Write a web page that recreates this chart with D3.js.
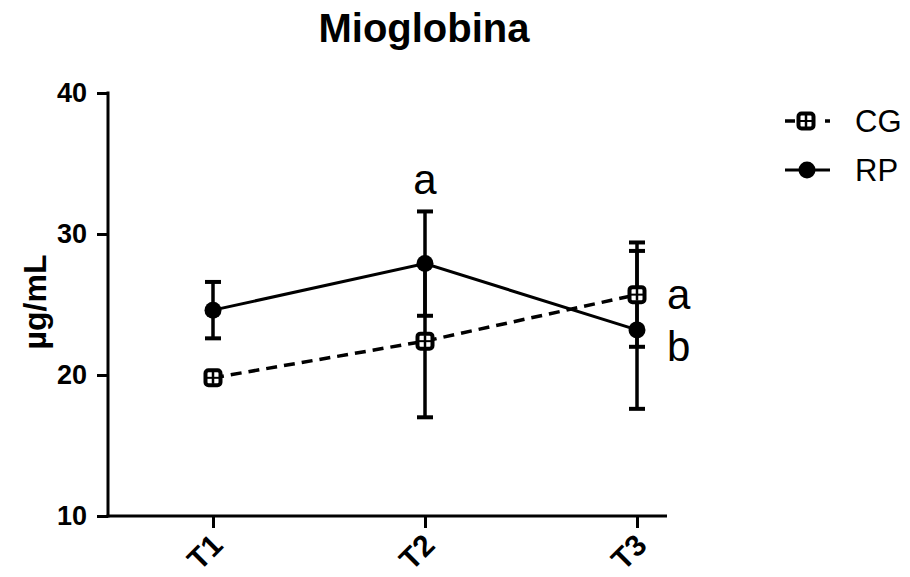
<!DOCTYPE html>
<html><head><meta charset="utf-8">
<script src="https://cdn.jsdelivr.net/npm/d3@7"></script>
<style>body{margin:0;background:#fff}svg{display:block;font-family:Arial,"Liberation Sans",sans-serif}</style>
</head><body><svg id="c" width="910" height="577"></svg>
<script>
const categories = ["T1","T2","T3"];
const cgMean = [19.8, 22.4, 25.7];
const cgErr  = [0.4, 5.4, 3.7];
const rpMean = [24.6, 27.9, 23.2];
const rpErr  = [2.0, 3.7, 5.6];
const yTicks = [10, 20, 30, 40];
const letterCats = ["T2", "T3", "T3"];
const letterSeries = ["RP-top", "CG", "RP"];
const letterTexts = ["a", "a", "b"];

const FONT = "Arial,'Liberation Sans',sans-serif";
const svg = d3.select("#c");
const x = d3.scalePoint().domain(categories).range([213, 637]);
const y = d3.scaleLinear().domain([10, 40]).range([516, 93]);

// title
svg.append("text").attr("x", 424).attr("y", 42).attr("text-anchor","middle")
  .style("font-size","40px").style("font-weight","bold").text("Mioglobina");

// y axis
const ya = svg.append("g").attr("transform","translate(108,0)")
  .call(d3.axisLeft(y).tickValues(yTicks).tickSize(11).tickPadding(10));
ya.select(".domain").attr("stroke","#000").attr("stroke-width",3).attr("d","M0,91.5V517.5");
ya.selectAll(".tick line").attr("stroke-width",3);
ya.selectAll(".tick text").style("font-size","27px").style("font-weight","bold").attr("fill","#000")
  .style("font-family",FONT).attr("dy","0.3em");

// x axis
const xa = svg.append("g").attr("transform","translate(0,516)")
  .call(d3.axisBottom(x).tickSize(12).tickPadding(6));
xa.select(".domain").attr("stroke","#000").attr("stroke-width",3).attr("d","M106.5,0H667");
xa.selectAll(".tick line").attr("stroke-width",3);
xa.selectAll(".tick text").style("font-size","30px").style("font-weight","bold").attr("fill","#000")
  .style("font-family",FONT)
  .attr("text-anchor","end").attr("dy","0").attr("y",0)
  .attr("transform","translate(11,31) rotate(-45)");

// y label
svg.append("text").attr("transform","translate(46,302) rotate(-90)")
  .attr("text-anchor","middle").style("font-size","32px").style("font-weight","bold").text("µg/mL");

const line = d3.line().x((d,i)=>x(categories[i])).y(d=>y(d));

function errBars(mean, err){
  const g = svg.append("g");
  mean.forEach((m,i)=>{
    const cx = x(categories[i]);
    const top = y(m+err[i]), bot = y(m-err[i]);
    g.append("line").attr("x1",cx).attr("x2",cx).attr("y1",top).attr("y2",bot)
      .attr("stroke","#000").attr("stroke-width",3.5);
    [top,bot].forEach(yy=>g.append("line").attr("x1",cx-8).attr("x2",cx+8)
      .attr("y1",yy).attr("y2",yy).attr("stroke","#000").attr("stroke-width",4));
  });
}
errBars(cgMean, cgErr);
errBars(rpMean, rpErr);

// CG dashed line
svg.append("path").attr("d", line(cgMean)).attr("fill","none").attr("stroke","#000")
  .attr("stroke-width",3.5).attr("stroke-dasharray","11,7");
// RP solid line
svg.append("path").attr("d", line(rpMean)).attr("fill","none").attr("stroke","#000")
  .attr("stroke-width",3);

function cgMarker(g, cx, cy){
  g.append("rect").attr("x",cx-7.5).attr("y",cy-7.5).attr("width",15).attr("height",15)
    .attr("rx",3).attr("fill","#fff").attr("stroke","#000").attr("stroke-width",4);
  g.append("line").attr("x1",cx).attr("x2",cx).attr("y1",cy-6).attr("y2",cy+6)
    .attr("stroke","#000").attr("stroke-width",2.5);
  g.append("line").attr("x1",cx-6).attr("x2",cx+6).attr("y1",cy).attr("y2",cy)
    .attr("stroke","#000").attr("stroke-width",2);
}
const mk = svg.append("g");
cgMean.forEach((m,i)=>cgMarker(mk, x(categories[i]), y(m)));
rpMean.forEach((m,i)=>mk.append("circle").attr("cx",x(categories[i])).attr("cy",y(m))
  .attr("r",8.5).attr("fill","#000"));

// significance letters
letterTexts.forEach((t,k)=>{
  const i = categories.indexOf(letterCats[k]);
  const s = letterSeries[k];
  let tx, ty, anchor;
  if (s === "RP-top") { tx = x(letterCats[k]); ty = y(rpMean[i]+rpErr[i]) - 17; anchor = "middle"; }
  else if (s === "CG") { tx = x(letterCats[k]) + 30; ty = y(cgMean[i]) + 14; anchor = "start"; }
  else { tx = x(letterCats[k]) + 30; ty = y(rpMean[i]) + 31; anchor = "start"; }
  svg.append("text").attr("x",tx).attr("y",ty).attr("text-anchor",anchor)
    .style("font-size","42px").text(t);
});

// legend
const lg = svg.append("g");
lg.append("line").attr("x1",785).attr("x2",795).attr("y1",121).attr("y2",121).attr("stroke","#000").attr("stroke-width",3.5);
lg.append("line").attr("x1",825).attr("x2",830).attr("y1",121).attr("y2",121).attr("stroke","#000").attr("stroke-width",3.5);
cgMarker(lg, 806, 121);
lg.append("text").attr("x",855).attr("y",121).attr("dy","0.36em").style("font-size","31px").text("CG");
lg.append("line").attr("x1",785).attr("x2",830).attr("y1",170).attr("y2",170).attr("stroke","#000").attr("stroke-width",3);
lg.append("circle").attr("cx",807).attr("cy",170).attr("r",8.5).attr("fill","#000");
lg.append("text").attr("x",855).attr("y",170).attr("dy","0.36em").style("font-size","31px").text("RP");
</script></body></html>
